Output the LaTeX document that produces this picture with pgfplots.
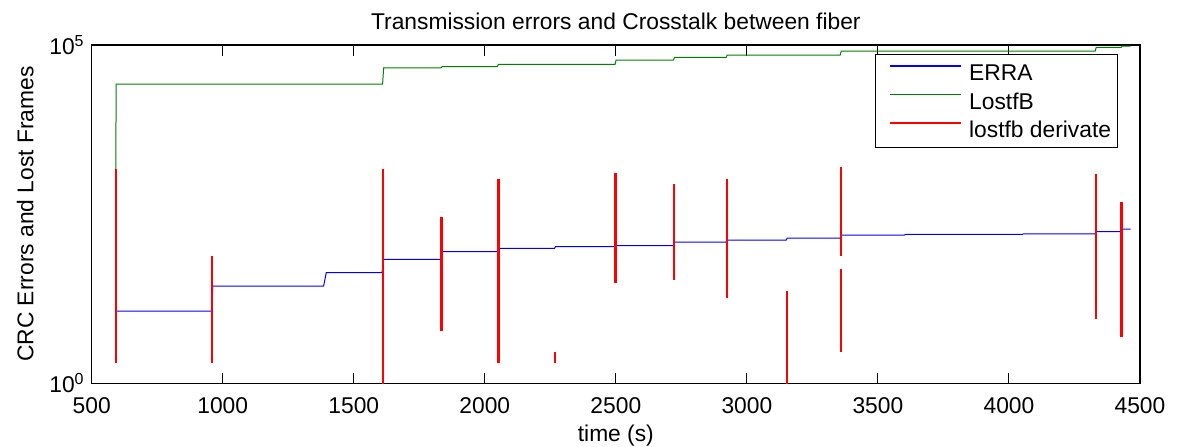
\documentclass[border=0pt]{standalone}
\usepackage{pgfplots}
\pgfplotsset{compat=1.18}
\usepackage{fontspec}
\setmainfont{Liberation Sans}
\definecolor{mblue}{RGB}{0,0,255}
\definecolor{mgreen}{RGB}{0,128,0}
\definecolor{mred}{RGB}{255,0,0}
\newcommand{\mfont}{\fontsize{11.4}{13.7}\selectfont}
\begin{document}
\begin{tikzpicture}
\begin{axis}[
  at={(0,0)}, anchor=south west,
  scale only axis,
  width=524.15pt, height=169.15pt,
  xmin=500, xmax=4500,
  ymode=log, ymin=1, ymax=100000,
  xtick={500,1000,...,4500},
  ytick={1,100000},
  yticklabels={10\textsuperscript{0},10\textsuperscript{5}},
  minor tick num=0, yminorticks=false,
  tick align=inside,
  major tick length=5.3pt,
  axis line style={line width=0.6pt, black},
  every tick/.style={black, line width=0.5pt},
  tick label style={font=\mfont},
  /pgf/number format/assume math mode=true,
  /pgf/number format/set thousands separator={},
  xticklabel style={anchor=base, yshift=-15pt},
  yticklabel style={anchor=base east, inner sep=0pt, xshift=-3.35pt, yshift=-4.7pt},
  title={Transmission errors and Crosstalk between fiber},
  title style={at={(axis description cs:0.5,1)}, anchor=base, yshift=2pt, font=\mfont, inner sep=0pt},
  xlabel={time (s)},
  xlabel style={at={(axis description cs:0.5,0)}, anchor=base, yshift=-28.85pt, font=\mfont, inner sep=0pt},
  ylabel={CRC Errors and Lost Frames},
  ylabel style={at={(axis description cs:-0.0557,0.5)}, anchor=base, font=\mfont, inner sep=0pt},
  unbounded coords=jump,
  legend style={at={(axis description cs:1,1)}, anchor=north east, xshift=-11.15pt, yshift=-4.5pt,
    draw=black, line width=0.6pt, fill=white, font=\mfont,
    inner xsep=3pt, inner ysep=2.9pt, row sep=2.05pt, column sep=3.7pt,
    nodes={inner sep=0pt, text height=10.2pt, text depth=2pt}},
  legend cell align=left,
  legend image code/.code={\path (0pt,0pt); \draw[#1, line width=0.6pt] (4.15pt,0.33em) -- (39.65pt,0.33em);},
]
\addplot[mblue, line width=0.5pt] coordinates {
(591,2.0) (593,11.7) (958,11.7) (962,27.4) (1385,27.4) (1395,43.2)
(1608,43.2) (1614,68) (1833,68) (1838,88) (2049,88) (2054,99)
(2266,99) (2270,104.7) (2497,104.7) (2501,108) (2720,108) (2724,122.5)
(2921,122.5) (2925,131) (3150,131) (3154,140) (3356,140) (3360,155)
(3601,155) (3605,158.5) (4051,158.5) (4055,162) (4329,162) (4333,174)
(4428,174) (4432,190.5) (4464,190.5)
};
\addlegendentry{ERRA}
\addplot[mgreen, line width=0.5pt] coordinates {
(591,2) (593,26500) (1610,26500) (1614,45800) (1833,45800) (1837,47900)
(2048,47900) (2052,51900) (2497,51900) (2501,60000) (2720,60000) (2724,65800)
(2921,65800) (2925,71100) (3356,71100) (3360,81500) (4329,81500) (4333,92300)
(4428,92300) (4432,96600) (4464,96600)
};
\addlegendentry{LostfB}
\addlegendimage{draw=red, color=red}
\addlegendentry{lostfb derivate}
\addplot[mred, line width=1.2pt, forget plot] coordinates {
(592,1455) (592,1.98) (592,nan)
(958,76) (958,1.98) (958,nan)
(1612,1455) (1612,0.5) (1612,nan)
(1835,284) (1835,5.93) (1835,nan)
(2052,1047) (2052,1.98) (2052,nan)
(2268,2.93) (2268,1.98) (2268,nan)
(2499,1297) (2499,30.7) (2499,nan)
(2722,883) (2722,33.7) (2722,nan)
(2923,1047) (2923,18.5) (2923,nan)
(3152,23.4) (3152,0.5) (3152,nan)
(3358,1585) (3358,76.9) (3358,nan)
(3358,49) (3358,2.93) (3358,nan)
(4331,1239) (4331,8.83) (4331,nan)
(4430,473) (4430,4.89)
};
\end{axis}
\pgfresetboundingbox
\path[use as bounding box] (-45.85pt,-31.35pt) rectangle (548.15pt,191.65pt);
\end{tikzpicture}
\end{document}
